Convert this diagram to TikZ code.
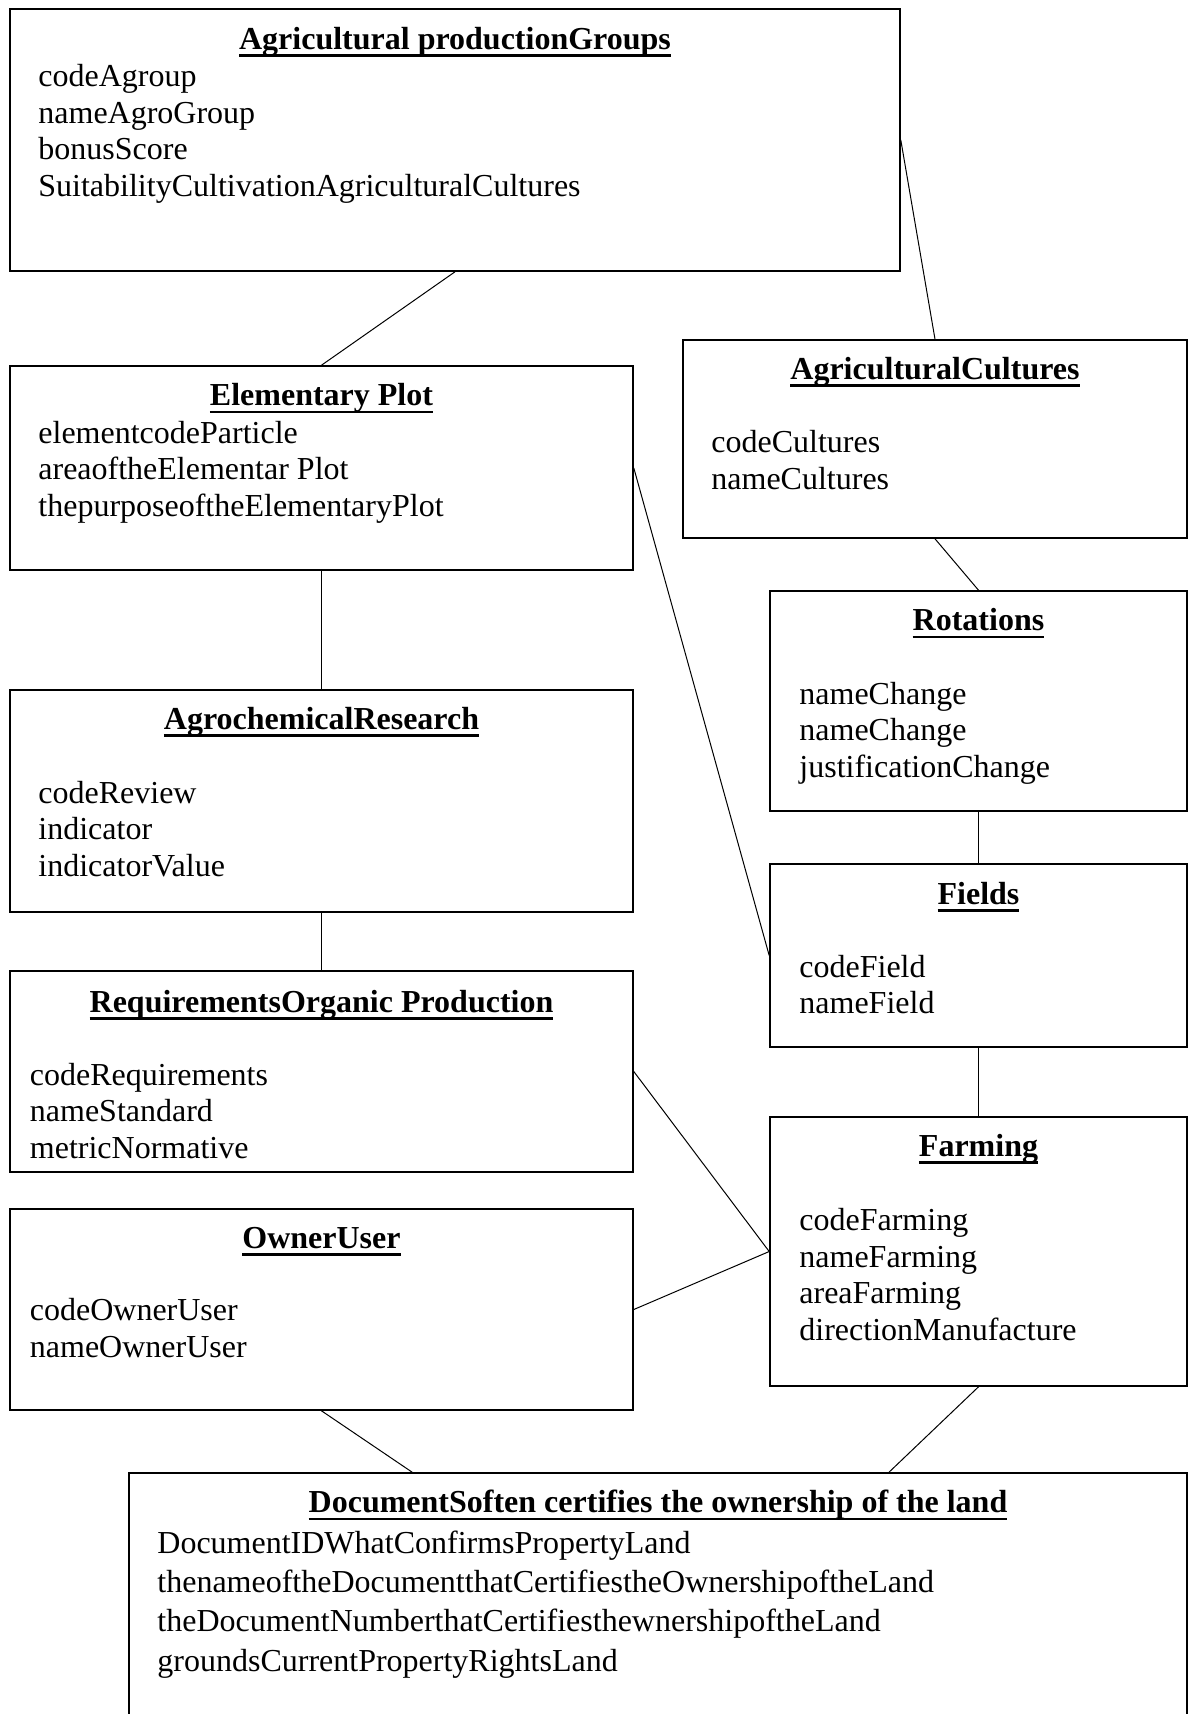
\documentclass[tikz,border=0pt]{standalone}
\usepackage{fontspec}
\setmainfont{Liberation Serif}
\usetikzlibrary{calc}

\newcommand{\ulbf}[1]{\setbox0\hbox{\bfseries #1}\rlap{\rule[-3.8pt]{\wd0}{1.3pt}}\box0}

\tikzset{
  entity/.style={draw, rectangle, line width=0.8pt, inner sep=0pt},
  head/.style={anchor=base, inner sep=0pt, font=\fontsize{16}{18.25}\selectfont},
  attr/.style={anchor=base west, inner sep=0pt, align=left, font=\fontsize{16}{18.25}\selectfont},
  link/.style={line width=0.5pt}
}

\begin{document}
\begin{tikzpicture}[x=0.5pt, y=-0.5pt]
\useasboundingbox (0,0) rectangle (1189,1714);
\clip (0,0) rectangle (1189,1714);

% Boxes
\node[entity, minimum width=445pt, minimum height=131pt] (grp) at (455,140) {};
\node[entity, minimum width=311.5pt, minimum height=102pt] (plot) at (321.5,468) {};
\node[entity, minimum width=252pt, minimum height=99pt] (cult) at (935,439) {};
\node[entity, minimum width=208.5pt, minimum height=110pt] (rot) at (978.5,701) {};
\node[entity, minimum width=311.5pt, minimum height=111pt] (chem) at (321.5,801) {};
\node[entity, minimum width=208.5pt, minimum height=91.5pt] (fields) at (978.5,955.5) {};
\node[entity, minimum width=311.5pt, minimum height=100.5pt] (req) at (321.5,1071.5) {};
\node[entity, minimum width=208.5pt, minimum height=134.5pt] (farm) at (978.5,1251.5) {};
\node[entity, minimum width=311.5pt, minimum height=100.5pt] (owner) at (321.5,1309.5) {};
\node[entity, minimum width=529pt, minimum height=133.5pt] (doc) at (658,1606.5) {};

% Agricultural production groups (attr nodes sit on their last baseline)
\node[head] (grp-h) at (455,49) {\ulbf{Agricultural productionGroups}};
\node[attr] (grp-a) at (38,196) {codeAgroup\\ nameAgroGroup\\ bonusScore\\ SuitabilityCultivationAgriculturalCultures};

% Elementary plot
\node[head] (plot-h) at (321.5,405.6) {\ulbf{Elementary Plot}};
\node[attr] (plot-a) at (38,516) {elementcodeParticle\\ areaoftheElementar Plot\\ thepurposeoftheElementaryPlot};

% Cultures
\node[head] (cult-h) at (935,379) {\ulbf{AgriculturalCultures}};
\node[attr] (cult-a) at (711,489) {codeCultures\\ nameCultures};

% Rotations
\node[head] (rot-h) at (978.5,630.7) {\ulbf{Rotations}};
\node[attr] (rot-a) at (799,777) {nameChange\\ nameChange\\ justificationChange};

% Agrochemical research
\node[head] (chem-h) at (321.5,729) {\ulbf{AgrochemicalResearch}};
\node[attr] (chem-a) at (38,876) {codeReview\\ indicator\\ indicatorValue};

% Fields
\node[head] (fields-h) at (978.5,904) {\ulbf{Fields}};
\node[attr] (fields-a) at (799,1013.5) {codeField\\ nameField};

% Requirements
\node[head] (req-h) at (321.5,1012) {\ulbf{RequirementsOrganic Production}};
\node[attr] (req-a) at (29.5,1158) {codeRequirements\\ nameStandard\\ metricNormative};

% Farming
\node[head] (farm-h) at (978.5,1156) {\ulbf{Farming}};
\node[attr] (farm-a) at (799,1340) {codeFarming\\ nameFarming\\ areaFarming\\ directionManufacture};

% Owner
\node[head] (owner-h) at (321.5,1248) {\ulbf{OwnerUser}};
\node[attr] (owner-a) at (29.5,1357) {codeOwnerUser\\ nameOwnerUser};

% Document
\node[head] (doc-h) at (658,1512.6) {\ulbf{DocumentSoften certifies the ownership of the land}};
\node[attr, font=\fontsize{16}{19.65}\selectfont] (doc-a) at (157,1671) {DocumentIDWhatConfirmsPropertyLand\\ thenameoftheDocumentthatCertifiestheOwnershipoftheLand\\ theDocumentNumberthatCertifiesthewnershipoftheLand\\ groundsCurrentPropertyRightsLand};

% Links
\draw[link] (grp.south) -- (plot.north);
\draw[link] (grp.east) -- (cult.north);
\draw[link] (plot.south) -- (chem.north);
\draw[link] (chem.south) -- (req.north);
\draw[link] (plot.east) -- (fields.west);
\draw[link] (cult.south) -- (rot.north);
\draw[link] (rot.south) -- (fields.north);
\draw[link] (fields.south) -- (farm.north);
\draw[link] (req.east) -- (farm.west);
\draw[link] (owner.east) -- (farm.west);
\draw[link] (owner.south) -- ($(doc.north west)!0.268!(doc.north east)$);
\draw[link] (farm.south) -- ($(doc.north west)!0.718!(doc.north east)$);

\end{tikzpicture}
\end{document}
